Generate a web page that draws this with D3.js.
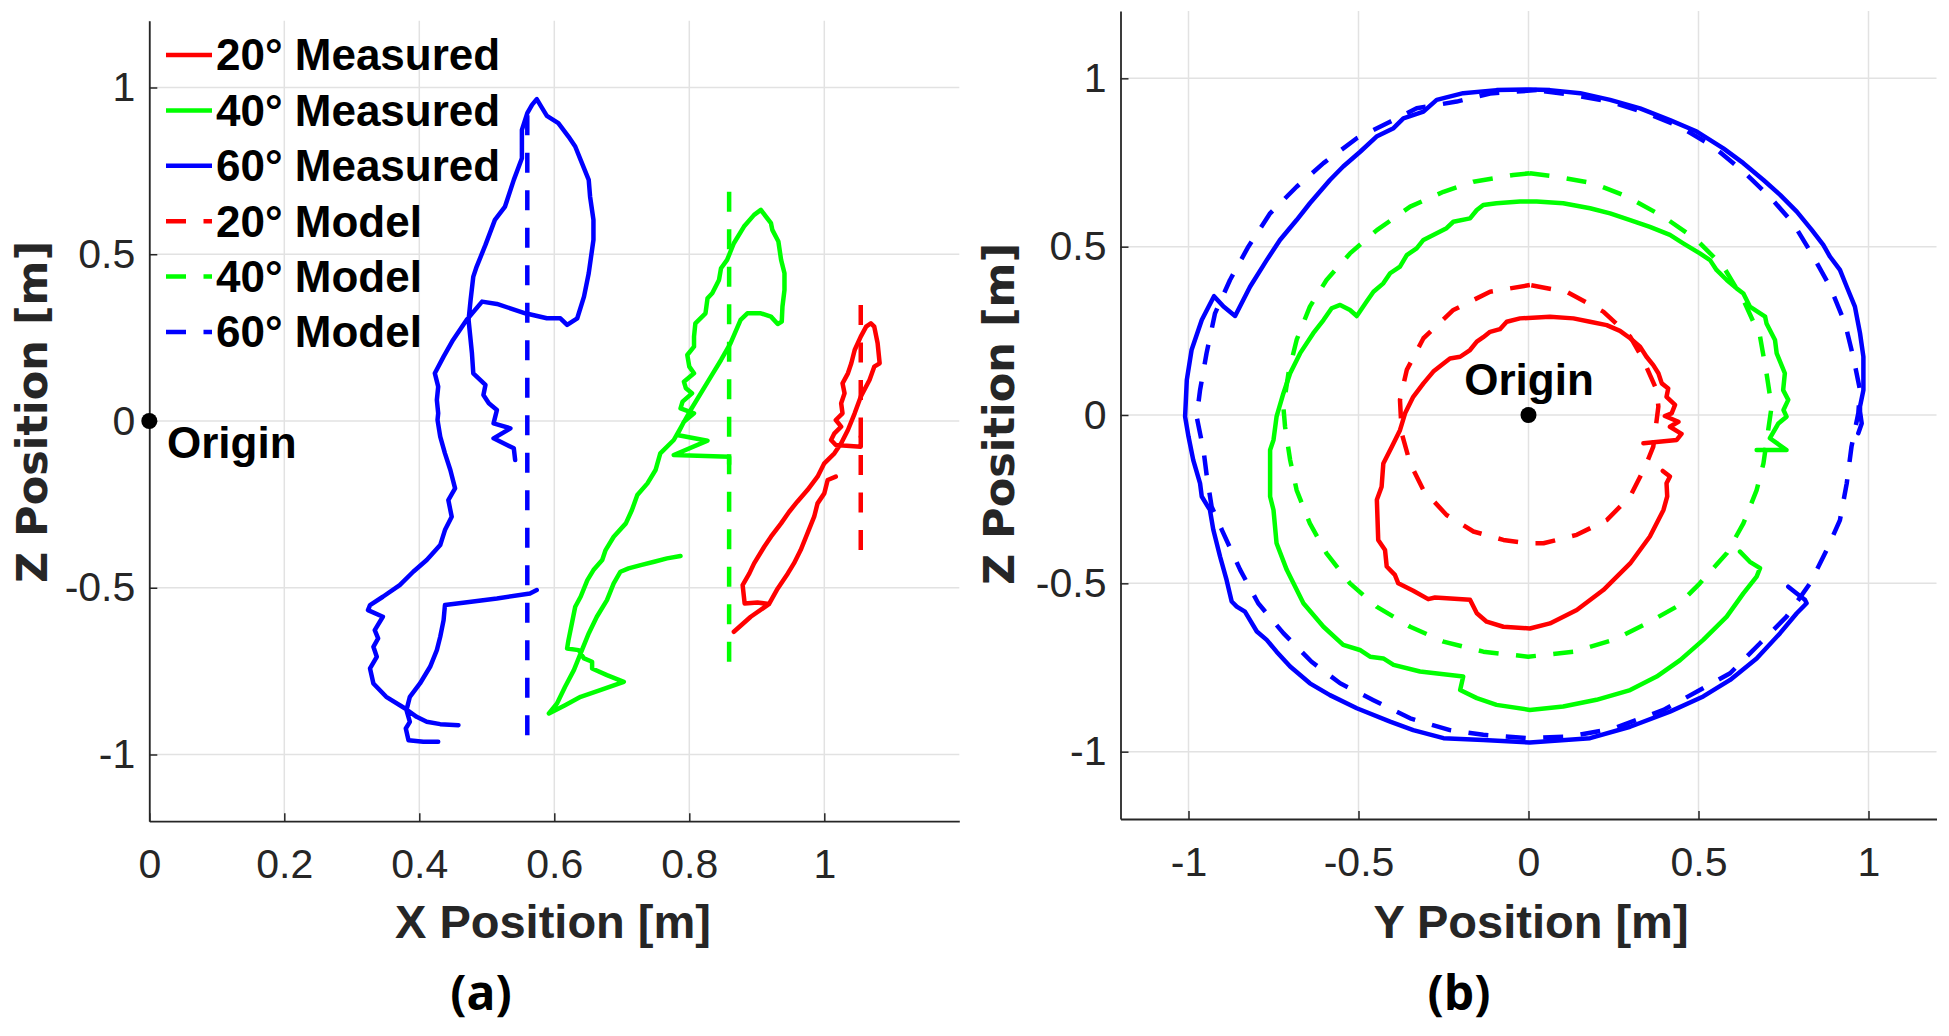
<!DOCTYPE html>
<html>
<head>
<meta charset="utf-8">
<script src="https://cdn.jsdelivr.net/npm/d3@7"></script>
<style>
  body { margin: 0; background: #ffffff; }
  text { font-family: "Liberation Sans", Arial, sans-serif; }
</style>
</head>
<body>
<script>
// ---- data ----
var seriesNames = ["20° Measured", "40° Measured", "60° Measured", "20° Model", "40° Model", "60° Model"];
var seriesColors = ["#ff0000", "#00ff00", "#0000ff", "#ff0000", "#00ff00", "#0000ff"];

var xTicksA = [0, 0.2, 0.4, 0.6, 0.8, 1];
var yTicksB = [-1, -0.5, 0, 0.5, 1];
var zTicks = [-1, -0.5, 0, 0.5, 1];

// panel (a): [x, z], null = break in the trace
var xz20Measured = [
  [0.866,-0.632],[0.891,-0.587],[0.918,-0.549],[0.931,-0.502],[0.946,-0.457],[0.955,-0.427],[0.965,-0.387],
  [0.975,-0.337],[0.985,-0.287],[0.990,-0.247],[1.000,-0.217],[1.005,-0.177],[1.017,-0.167], null,
  [0.918,-0.549],[0.901,-0.544],[0.882,-0.547],[0.879,-0.492],[0.889,-0.457],[0.896,-0.427],[0.911,-0.377],
  [0.921,-0.347],[0.936,-0.307],[0.948,-0.272],[0.960,-0.242],[0.975,-0.207],[0.990,-0.167],[1.000,-0.127],
  [1.015,-0.097],[1.025,-0.067],[1.035,-0.027],[1.045,0.023],[1.054,0.073],[1.067,0.123],[1.074,0.163],
  [1.082,0.173],[1.079,0.233],[1.074,0.283],[1.069,0.293],[1.062,0.283],[1.054,0.253],[1.045,0.213],
  [1.040,0.173],[1.035,0.143],[1.027,0.113],[1.030,0.083],[1.025,0.053],[1.027,0.023],[1.017,0.003],
  [1.025,-0.017],[1.015,-0.037],[1.010,-0.057],[1.017,-0.072],[1.054,-0.077],[1.054,-0.047]
];
var xz40Measured = [
  [0.787,-0.405],[0.767,-0.412],[0.748,-0.422],[0.728,-0.432],[0.710,-0.442],[0.698,-0.452],[0.688,-0.487],
  [0.678,-0.537],[0.663,-0.587],[0.651,-0.637],[0.639,-0.697],[0.629,-0.747],[0.616,-0.797],[0.604,-0.847],
  [0.592,-0.877],[0.616,-0.852],[0.639,-0.827],[0.668,-0.807],[0.703,-0.782],[0.678,-0.762],[0.656,-0.742],
  [0.656,-0.722],[0.644,-0.712],[0.636,-0.687],[0.619,-0.682],[0.621,-0.657],[0.626,-0.607],[0.631,-0.557],
  [0.639,-0.527],[0.649,-0.477],[0.658,-0.447],[0.671,-0.417],[0.676,-0.387],[0.688,-0.347],[0.706,-0.307],
  [0.715,-0.267],[0.723,-0.222],[0.738,-0.187],[0.750,-0.147],[0.757,-0.097],[0.777,-0.057],[0.802,0.033],
  [0.832,0.133],[0.847,0.183],[0.861,0.233],[0.876,0.303],[0.886,0.323],[0.906,0.323],[0.921,0.313],
  [0.931,0.291],[0.937,0.298],[0.938,0.343],[0.941,0.393],[0.941,0.443],[0.936,0.483],[0.932,0.538],
  [0.923,0.573],[0.921,0.593],[0.906,0.633],[0.896,0.618],[0.881,0.583],[0.866,0.533],[0.856,0.483],
  [0.847,0.458],[0.844,0.423],[0.834,0.383],[0.827,0.368],[0.824,0.323],[0.809,0.293],[0.807,0.253],
  [0.807,0.223],[0.797,0.198],[0.800,0.163],[0.807,0.143],[0.792,0.118],[0.795,0.098],[0.804,0.083],
  [0.790,0.058],[0.787,0.038],[0.807,0.023],[0.792,-0.002],[0.782,-0.042],[0.827,-0.059],[0.777,-0.102],
  [0.859,-0.107],[0.859,-0.130]
];
var xz60Measured = [
  [0.574,-0.507],[0.564,-0.517],[0.515,-0.532],[0.465,-0.545],[0.438,-0.552],[0.436,-0.597],[0.431,-0.647],
  [0.426,-0.687],[0.416,-0.737],[0.401,-0.787],[0.386,-0.827],[0.381,-0.867],[0.386,-0.902],[0.380,-0.922],
  [0.384,-0.957],[0.406,-0.962],[0.428,-0.962], null,
  [0.458,-0.912],[0.431,-0.909],[0.411,-0.902],[0.396,-0.887],[0.379,-0.862],[0.351,-0.827],[0.332,-0.787],
  [0.327,-0.742],[0.337,-0.707],[0.332,-0.677],[0.339,-0.652],[0.334,-0.627],[0.346,-0.587],[0.324,-0.567],
  [0.327,-0.552],[0.346,-0.527],[0.371,-0.492],[0.391,-0.452],[0.411,-0.417],[0.431,-0.372],[0.438,-0.327],
  [0.448,-0.287],[0.443,-0.237],[0.453,-0.202],[0.446,-0.147],[0.438,-0.097],[0.431,-0.047],[0.427,0.003],
  [0.428,0.023],[0.426,0.063],[0.428,0.103],[0.423,0.143],[0.436,0.193],[0.450,0.243],[0.470,0.303],
  [0.493,0.358],[0.515,0.351],[0.557,0.323],[0.589,0.308],[0.609,0.308],[0.619,0.288],[0.634,0.308],
  [0.644,0.373],[0.651,0.443],[0.658,0.543],[0.658,0.603],[0.653,0.673],[0.651,0.723],[0.639,0.783],
  [0.631,0.823],[0.621,0.853],[0.606,0.893],[0.589,0.915],[0.582,0.938],[0.574,0.965],[0.567,0.948],
  [0.560,0.923],[0.552,0.873],[0.552,0.788],[0.540,0.723],[0.527,0.643],[0.512,0.603],[0.498,0.528],
  [0.485,0.463],[0.480,0.433],[0.476,0.363],[0.473,0.303],[0.475,0.263],[0.478,0.203],[0.480,0.143],
  [0.498,0.108],[0.495,0.078],[0.503,0.053],[0.515,0.033],[0.510,-0.007],[0.535,-0.022],[0.510,-0.052],
  [0.540,-0.082],[0.542,-0.117]
];
var xz20Model = [[1.054,-0.387],[1.054,0.383]];
var xz40Model = [[0.859,-0.722],[0.859,0.723]];
var xz60Model = [[0.560,-0.942],[0.560,0.958]];

// panel (b): [y, z]
var yz20Measured = [
  [0.338,-0.084],[0.436,-0.074],[0.450,-0.056],[0.416,-0.035],[0.441,-0.020],[0.401,-0.003],[0.421,0.005],
  [0.431,0.030],[0.406,0.054],[0.411,0.079],[0.392,0.094],[0.382,0.124],[0.367,0.148],[0.347,0.173],
  [0.328,0.203],[0.299,0.228],[0.269,0.250],[0.230,0.267],[0.181,0.277],[0.132,0.287],[0.063,0.292],
  [-0.025,0.287],[-0.064,0.277],[-0.084,0.255],[-0.113,0.247],[-0.133,0.231],[-0.152,0.218],[-0.172,0.193],
  [-0.201,0.173],[-0.231,0.168],[-0.250,0.153],[-0.280,0.129],[-0.309,0.094],[-0.339,0.054],[-0.363,0.005],
  [-0.378,-0.045],[-0.402,-0.094],[-0.427,-0.144],[-0.432,-0.213],[-0.446,-0.252],[-0.442,-0.371],
  [-0.422,-0.401],[-0.417,-0.450],[-0.393,-0.475],[-0.383,-0.500],[-0.339,-0.522],[-0.295,-0.547],
  [-0.275,-0.542],[-0.172,-0.549],[-0.152,-0.589],[-0.123,-0.614],[-0.074,-0.629],[0.004,-0.634],
  [0.063,-0.619],[0.142,-0.579],[0.220,-0.520],[0.299,-0.441],[0.357,-0.361],[0.397,-0.282],[0.408,-0.242],
  [0.406,-0.203],[0.416,-0.183],[0.395,-0.166]
];
var yz40Measured = [
  [0.671,-0.104],[0.759,-0.104],[0.710,-0.069],[0.735,-0.025],[0.759,-0.005],[0.750,0.015],[0.764,0.045],
  [0.749,0.074],[0.754,0.124],[0.730,0.183],[0.725,0.223],[0.700,0.272],[0.696,0.292],[0.651,0.322],
  [0.632,0.361],[0.612,0.376],[0.583,0.401],[0.553,0.431],[0.534,0.460],[0.504,0.480],[0.455,0.510],
  [0.416,0.535],[0.357,0.559],[0.299,0.579],[0.240,0.599],[0.181,0.614],[0.102,0.629],[0.024,0.634],
  [-0.025,0.634],[-0.094,0.629],[-0.133,0.624],[-0.152,0.609],[-0.172,0.584],[-0.221,0.574],[-0.241,0.555],
  [-0.270,0.540],[-0.309,0.520],[-0.329,0.495],[-0.358,0.475],[-0.378,0.441],[-0.407,0.421],[-0.427,0.391],
  [-0.456,0.366],[-0.476,0.337],[-0.505,0.294],[-0.525,0.312],[-0.554,0.327],[-0.579,0.317],[-0.603,0.282],
  [-0.633,0.243],[-0.672,0.183],[-0.701,0.124],[-0.721,0.064],[-0.741,-0.005],[-0.750,-0.074],[-0.760,-0.104],
  [-0.760,-0.242],[-0.750,-0.282],[-0.741,-0.381],[-0.711,-0.460],[-0.662,-0.559],[-0.603,-0.629],
  [-0.545,-0.683],[-0.496,-0.698],[-0.466,-0.718],[-0.427,-0.723],[-0.397,-0.742],[-0.319,-0.762],
  [-0.192,-0.777],[-0.201,-0.817],[-0.152,-0.841],[-0.094,-0.861],[0.004,-0.876],[0.102,-0.866],
  [0.200,-0.846],[0.299,-0.817],[0.377,-0.777],[0.446,-0.728],[0.514,-0.668],[0.583,-0.599],[0.632,-0.530],
  [0.671,-0.480],[0.681,-0.455],[0.651,-0.436],[0.622,-0.406]
];
var yz60Measured = [
  [0.970,-0.054],[0.980,-0.025],[0.975,0.010],[0.975,0.025],[0.985,0.074],[0.985,0.173],[0.975,0.243],
  [0.960,0.322],[0.936,0.381],[0.916,0.431],[0.887,0.470],[0.867,0.505],[0.833,0.550],[0.789,0.604],
  [0.740,0.654],[0.691,0.698],[0.632,0.748],[0.573,0.792],[0.495,0.842],[0.416,0.876],[0.328,0.911],
  [0.240,0.936],[0.152,0.956],[0.063,0.965],[0.004,0.967],[-0.094,0.965],[-0.192,0.956],[-0.270,0.936],
  [-0.309,0.901],[-0.368,0.881],[-0.397,0.852],[-0.447,0.827],[-0.495,0.782],[-0.545,0.738],[-0.584,0.698],
  [-0.643,0.629],[-0.682,0.579],[-0.731,0.520],[-0.770,0.460],[-0.819,0.381],[-0.863,0.294],[-0.897,0.322],
  [-0.925,0.353],[-0.961,0.282],[-0.991,0.193],[-1.005,0.104],[-1.010,-0.005],[-1.000,-0.064],[-0.986,-0.134],
  [-0.966,-0.203],[-0.961,-0.242],[-0.937,-0.282],[-0.927,-0.341],[-0.907,-0.421],[-0.888,-0.490],
  [-0.873,-0.554],[-0.858,-0.569],[-0.834,-0.584],[-0.799,-0.643],[-0.770,-0.668],[-0.741,-0.703],
  [-0.701,-0.747],[-0.643,-0.797],[-0.584,-0.832],[-0.505,-0.871],[-0.407,-0.911],[-0.339,-0.936],
  [-0.250,-0.960],[-0.133,-0.965],[0.004,-0.973],[0.181,-0.960],[0.299,-0.926],[0.416,-0.881],[0.514,-0.836],
  [0.593,-0.787],[0.671,-0.723],[0.740,-0.648],[0.789,-0.589],[0.818,-0.559],[0.813,-0.549],[0.789,-0.530],
  [0.764,-0.510]
];
var yz20Model = [
  [0.004,0.386],[-0.113,0.366],[-0.221,0.312],[-0.309,0.228],[-0.358,0.134],[-0.378,0.045],[-0.373,-0.054],
  [-0.348,-0.144],[-0.309,-0.223],[-0.241,-0.297],[-0.162,-0.346],[-0.074,-0.371],[-0.001,-0.381],
  [0.044,-0.381],[0.142,-0.356],[0.230,-0.312],[0.299,-0.242],[0.343,-0.154],[0.367,-0.094],[0.382,0.025],
  [0.377,0.074],[0.338,0.163],[0.299,0.233],[0.220,0.307],[0.112,0.366],[0.004,0.386]
];
var yz40Model = [
  [0.004,0.718],[-0.045,0.713],[-0.162,0.693],[-0.250,0.663],[-0.348,0.619],[-0.446,0.549],[-0.525,0.480],
  [-0.594,0.401],[-0.643,0.322],[-0.682,0.223],[-0.706,0.124],[-0.721,0.025],[-0.716,-0.035],[-0.701,-0.134],
  [-0.682,-0.223],[-0.643,-0.322],[-0.594,-0.411],[-0.525,-0.500],[-0.447,-0.569],[-0.348,-0.629],
  [-0.250,-0.673],[-0.133,-0.703],[-0.001,-0.718],[0.132,-0.703],[0.250,-0.668],[0.348,-0.619],[0.436,-0.569],
  [0.504,-0.500],[0.583,-0.411],[0.632,-0.322],[0.671,-0.223],[0.691,-0.144],[0.705,-0.045],[0.715,0.025],
  [0.700,0.124],[0.681,0.233],[0.632,0.342],[0.573,0.441],[0.495,0.520],[0.397,0.589],[0.289,0.649],
  [0.191,0.688],[0.083,0.708],[0.004,0.718]
];
var yz60Model = [
  [0.024,0.965],[-0.113,0.955],[-0.211,0.931],[-0.329,0.911],[-0.407,0.871],[-0.505,0.822],[-0.603,0.748],
  [-0.682,0.678],[-0.760,0.599],[-0.824,0.500],[-0.878,0.401],[-0.922,0.302],[-0.947,0.183],[-0.966,0.074],
  [-0.976,-0.005],[-0.956,-0.104],[-0.946,-0.183],[-0.932,-0.272],[-0.902,-0.341],[-0.848,-0.460],
  [-0.795,-0.559],[-0.721,-0.648],[-0.638,-0.733],[-0.554,-0.797],[-0.456,-0.847],[-0.348,-0.901],
  [-0.231,-0.936],[-0.133,-0.950],[-0.005,-0.960],[0.122,-0.955],[0.250,-0.931],[0.397,-0.876],[0.504,-0.817],
  [0.593,-0.767],[0.681,-0.678],[0.759,-0.599],[0.828,-0.500],[0.877,-0.401],[0.916,-0.312],[0.936,-0.203],
  [0.950,-0.094],[0.970,0.005],[0.975,0.074],[0.955,0.173],[0.931,0.272],[0.887,0.381],[0.838,0.470],
  [0.779,0.569],[0.710,0.648],[0.632,0.723],[0.544,0.797],[0.446,0.856],[0.348,0.896],[0.240,0.931],
  [0.132,0.950],[0.024,0.965]
];

// ---- drawing ----
var W = 1949, H = 1036;
var axis_color = "#262626";
var grid_color = "#e2e2e2";
var line_width = 4.5;
var dash_pattern = "20,17.5";

var svg = d3.select("body").append("svg")
  .attr("width", W).attr("height", H)
  .style("background", "#ffffff");

var panels = [
  {
    x: d3.scaleLinear().domain([0, 1.2]).range([149.3, 959.3]),
    z: d3.scaleLinear().domain([-1.2, 1.2]).range([821.2, 20.8]),
    xticks: xTicksA,
    series: [xz20Measured, xz40Measured, xz60Measured, xz20Model, xz40Model, xz60Model],
    xlabel: "X Position [m]", xlabel_x: 553,
    ylabel_x: 47, ylabel_y: 412,
    tag: "(a)", tag_x: 481
  },
  {
    x: d3.scaleLinear().domain([-1.2, 1.2]).range([1120.5, 1936.5]),
    z: d3.scaleLinear().domain([-1.2, 1.2]).range([819, 11]),
    xticks: yTicksB,
    series: [yz20Measured, yz40Measured, yz60Measured, yz20Model, yz40Model, yz60Model],
    xlabel: "Y Position [m]", xlabel_x: 1531,
    ylabel_x: 1014, ylabel_y: 414,
    tag: "(b)", tag_x: 1459
  }
];

panels.forEach(function(p, pi){
  var g = svg.append("g");
  var x0 = p.x.range()[0], x1 = p.x.range()[1];
  var zb = p.z.range()[0], zt = p.z.range()[1];

  // grid
  g.selectAll(".gx").data(p.xticks).enter().append("line")
    .attr("x1", function(d){ return p.x(d); }).attr("x2", function(d){ return p.x(d); })
    .attr("y1", zb).attr("y2", zt)
    .attr("stroke", grid_color).attr("stroke-width", 1.5);
  g.selectAll(".gz").data(zTicks).enter().append("line")
    .attr("x1", x0).attr("x2", x1)
    .attr("y1", function(d){ return p.z(d); }).attr("y2", function(d){ return p.z(d); })
    .attr("stroke", grid_color).attr("stroke-width", 1.5);

  // axes
  var xAxis = d3.axisBottom(p.x).tickValues(p.xticks).tickSize(-8).tickSizeOuter(0)
    .tickPadding(28).tickFormat(function(d){ return String(d); });
  var zAxis = d3.axisLeft(p.z).tickValues(zTicks).tickSize(-8).tickSizeOuter(0)
    .tickPadding(14).tickFormat(function(d){ return String(d); });

  var gx = g.append("g").attr("transform", "translate(0," + zb + ")").call(xAxis);
  var gz = g.append("g").attr("transform", "translate(" + x0 + ",0)").call(zAxis);
  [gx, gz].forEach(function(a){
    a.select(".domain").attr("stroke", axis_color).attr("stroke-width", 1.8);
    a.selectAll(".tick line").attr("stroke", axis_color).attr("stroke-width", 1.5);
    a.selectAll(".tick text")
      .attr("fill", axis_color)
      .style("font-family", "'Liberation Sans', Arial, sans-serif")
      .style("font-size", "41px");
  });

  // traces
  var line = d3.line()
    .defined(function(d){ return d !== null; })
    .x(function(d){ return p.x(d[0]); })
    .y(function(d){ return p.z(d[1]); });

  p.series.forEach(function(s, i){
    g.append("path")
      .datum(s)
      .attr("d", line)
      .attr("fill", "none")
      .attr("stroke", seriesColors[i])
      .attr("stroke-width", line_width)
      .attr("stroke-linejoin", "round")
      .attr("stroke-linecap", i < 3 ? "round" : "butt")
      .attr("stroke-dasharray", i < 3 ? null : dash_pattern);
  });

  // origin marker
  g.append("circle")
    .attr("cx", p.x(0)).attr("cy", p.z(0)).attr("r", 8)
    .attr("fill", "#000000");

  // axis labels
  g.append("text")
    .attr("x", p.xlabel_x).attr("y", 938)
    .attr("text-anchor", "middle")
    .attr("font-size", 47).attr("font-weight", "bold")
    .attr("fill", axis_color)
    .text(p.xlabel);

  g.append("text")
    .attr("transform", "translate(" + p.ylabel_x + "," + p.ylabel_y + ") rotate(-90)")
    .attr("text-anchor", "middle")
    .style("font-family", "'DejaVu Sans', Verdana, sans-serif")
    .attr("font-size", 43).attr("font-weight", "bold")
    .attr("fill", axis_color)
    .text("Z Position [m]");

  g.append("text")
    .attr("x", p.tag_x).attr("y", 1010)
    .attr("text-anchor", "middle")
    .style("font-family", "'Open Sans', sans-serif")
    .attr("font-size", 48).attr("font-weight", "bold")
    .attr("fill", "#000000")
    .text(p.tag);
});

// origin labels
svg.append("text")
  .attr("x", 167).attr("y", 458)
  .attr("font-size", 44).attr("font-weight", "bold")
  .attr("fill", "#000000")
  .text("Origin");
svg.append("text")
  .attr("x", 1529).attr("y", 395)
  .attr("text-anchor", "middle")
  .attr("font-size", 44).attr("font-weight", "bold")
  .attr("fill", "#000000")
  .text("Origin");

// legend (panel a, no box)
var legend_x = 166, legend_y0 = 55, legend_dy = 55.4;
var lg = svg.append("g");
seriesNames.forEach(function(name, i){
  var yy = legend_y0 + i*legend_dy;
  lg.append("line")
    .attr("x1", legend_x).attr("x2", legend_x + 46)
    .attr("y1", yy).attr("y2", yy)
    .attr("stroke", seriesColors[i])
    .attr("stroke-width", line_width)
    .attr("stroke-dasharray", i < 3 ? null : dash_pattern);
  lg.append("text")
    .attr("x", legend_x + 50).attr("y", yy)
    .attr("dy", "0.35em")
    .attr("font-size", 44).attr("font-weight", "bold")
    .attr("fill", "#000000")
    .text(name);
});
</script>
</body>
</html>
